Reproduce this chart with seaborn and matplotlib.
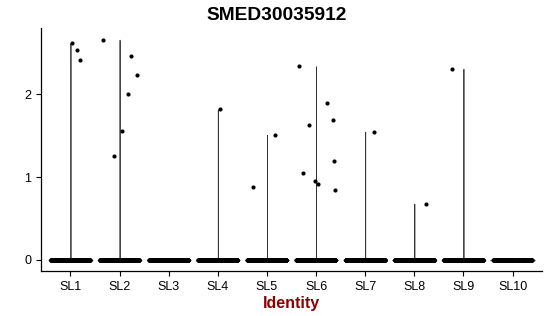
import numpy as np
import pandas as pd
import matplotlib
matplotlib.use("Agg")
import matplotlib.pyplot as plt
import seaborn as sns

identities = ["SL1", "SL2", "SL3", "SL4", "SL5", "SL6", "SL7", "SL8", "SL9", "SL10"]
zero_counts = [400, 400, 400, 400, 400, 400, 400, 400, 400, 160]
nonzero_values = {
    "SL1": [2.62, 2.53, 2.41],
    "SL2": [2.66, 2.46, 2.23, 2.01, 1.56, 1.25],
    "SL3": [],
    "SL4": [1.82],
    "SL5": [1.51, 0.88],
    "SL6": [2.34, 1.89, 1.69, 1.63, 1.20, 1.05, 0.95, 0.92, 0.85],
    "SL7": [1.55],
    "SL8": [0.68],
    "SL9": [2.31],
    "SL10": [],
}
title = "SMED30035912"

rows = []
for ident, nz in zip(identities, zero_counts):
    rows += [(ident, 0.0)] * nz
    rows += [(ident, v) for v in nonzero_values[ident]]
df = pd.DataFrame(rows, columns=["Identity", "Expression"])
df["Identity"] = pd.Categorical(df["Identity"], categories=identities, ordered=True)

sns.set_style("ticks")
plt.rcParams["font.family"] = ["Liberation Sans", "DejaVu Sans"]
plt.rcParams["text.color"] = "black"

fig = plt.figure(figsize=(5.5, 3.16), dpi=100)
ax = fig.add_axes([0.0745, 0.1424, 0.911, 0.7686])

sns.violinplot(data=df, x="Identity", y="Expression", order=identities,
               cut=0, density_norm="width", inner=None, width=0.9, bw_adjust=0.08,
               color="white", linewidth=0.55, linecolor="#333333", ax=ax)
np.random.seed(3)
sns.stripplot(data=df, x="Identity", y="Expression", order=identities,
              jitter=0.4, size=3.0, color="black", linewidth=0, ax=ax)

ax.set_xlim(-0.6, 9.6)
ax.set_ylim(-0.133, 2.80)
ax.set_yticks([0, 1, 2])
fig.text(277 / 550, 1 - 15 / 316, title, fontsize=13.8, fontweight="bold",
         ha="center", va="center", color="black")
ax.set_xlabel("Identity", fontsize=11.5, fontweight="bold", color="#8B0000", labelpad=2)
ax.set_ylabel("")
ax.tick_params(axis="both", labelsize=9, colors="black", length=3.5, width=0.8)
for s in ["top", "right"]:
    ax.spines[s].set_visible(False)
for s in ["left", "bottom"]:
    ax.spines[s].set_color("black")
    ax.spines[s].set_linewidth(0.9)

fig.savefig("out.png", dpi=100)
